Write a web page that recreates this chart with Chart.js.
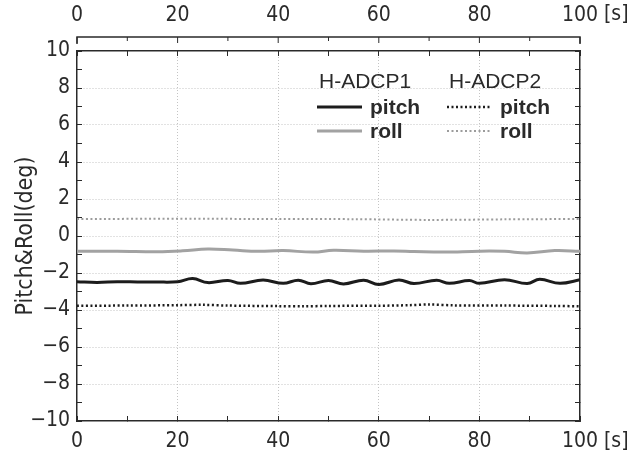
<!DOCTYPE html>
<html>
<head>
<meta charset="utf-8">
<script src="https://cdn.jsdelivr.net/npm/chart.js@4.4.1/dist/chart.umd.min.js"></script>
<style>
  html, body { margin: 0; padding: 0; background: #fff; }
  #wrap { width: 640px; height: 454px; position: relative; }
</style>
</head>
<body>
<div id="wrap"><canvas id="chart"></canvas></div>
<script>
// H-ADCP1 pitch (black, solid)
const pitch1T = [0, 4, 8, 12, 16, 20, 23, 26, 30, 32.5, 37, 41, 44, 46.5, 50, 53, 57, 60, 64, 67, 71.5, 74, 78, 80, 85, 89.5, 92, 96, 100];
const pitch1V = [-2.47, -2.51, -2.47, -2.48, -2.49, -2.47, -2.30, -2.52, -2.40, -2.56, -2.38, -2.56, -2.39, -2.58, -2.41, -2.59, -2.39, -2.62, -2.38, -2.57, -2.39, -2.56, -2.41, -2.56, -2.36, -2.57, -2.34, -2.56, -2.37];

// H-ADCP1 roll (grey, solid)
const roll1T = [0, 8, 16, 21, 26, 31, 36, 41, 47, 51, 57, 63, 67, 73, 80, 85, 89.5, 95, 100];
const roll1V = [-0.83, -0.82, -0.85, -0.80, -0.70, -0.76, -0.83, -0.79, -0.87, -0.77, -0.82, -0.81, -0.84, -0.87, -0.82, -0.83, -0.92, -0.79, -0.83];

// H-ADCP2 pitch (black, dotted)
const pitch2T = [0, 10, 20, 25, 30, 40, 45, 50, 60, 66, 70, 75, 85, 95, 100];
const pitch2V = [-3.77, -3.76, -3.74, -3.72, -3.76, -3.79, -3.80, -3.78, -3.77, -3.74, -3.70, -3.75, -3.76, -3.78, -3.80];

// H-ADCP2 roll (grey, dotted)
const roll2T = [0, 20, 40, 55, 70, 85, 100];
const roll2V = [0.92, 0.93, 0.92, 0.91, 0.87, 0.90, 0.92];

const xLabels = [0, 20, 40, 60, 80, 100];
const yLabels = [-10, -8, -6, -4, -2, 0, 2, 4, 6, 8, 10];
const timeUnit = '[s]';
const yTitle = 'Pitch&Roll(deg)';
const groupNames = ['H-ADCP1', 'H-ADCP2'];

const NARROW = '"Liberation Sans Narrow", "DejaVu Sans Condensed", sans-serif';
const SANS = '"Liberation Sans", Arial, sans-serif';
const INK = '#2a2a2a';
const GRID = '#c4c4c4';

const pts = (t, v) => t.map((x, i) => ({ x: x, y: v[i] }));
const minus = v => (v < 0 ? '\u2212' + Math.abs(v) : String(v));

const xGridColor = ctx => (xLabels.includes(ctx.tick.value) && ctx.tick.value !== 0 && ctx.tick.value !== 100 ? GRID : 'rgba(0,0,0,0)');
const yGridColor = ctx => (yLabels.includes(ctx.tick.value) && Math.abs(ctx.tick.value) !== 10 ? GRID : 'rgba(0,0,0,0)');

// ruler above the plot, plus "[s]" after the 100 labels
const rulerPlugin = {
  id: 'ruler',
  afterDraw(chart) {
    const ctx = chart.ctx;
    const sx = chart.scales.x2;
    const y0 = 37;
    ctx.save();
    ctx.strokeStyle = INK;
    ctx.lineWidth = 1.5;
    ctx.beginPath();
    ctx.moveTo(sx.left, y0 + 7);
    ctx.lineTo(sx.left, y0);
    ctx.lineTo(sx.right, y0);
    ctx.lineTo(sx.right, y0 + 7);
    ctx.stroke();
    ctx.lineWidth = 1;
    sx.ticks.forEach(t => {
      const px = sx.getPixelForValue(t.value);
      const len = xLabels.includes(t.value) ? 6 : 4;
      ctx.beginPath();
      ctx.moveTo(px, y0);
      ctx.lineTo(px, y0 + len);
      ctx.stroke();
    });
    ctx.fillStyle = INK;
    ctx.font = '21px ' + NARROW;
    ctx.textAlign = 'left';
    ctx.textBaseline = 'middle';
    const ux = sx.getPixelForValue(100) + 24;
    ctx.fillText(timeUnit, ux, 15);
    ctx.fillText(timeUnit, ux, 442);
    ctx.restore();
  }
};

// two-column legend inside the plot
const legendPlugin = {
  id: 'groupLegend',
  afterDraw(chart) {
    const ctx = chart.ctx;
    const ds = chart.data.datasets;
    const cols = [317, 447];
    ctx.save();
    ctx.fillStyle = INK;
    ctx.textBaseline = 'middle';
    ctx.textAlign = 'left';
    cols.forEach((cx, c) => {
      ctx.font = '21px ' + SANS;
      ctx.fillText(groupNames[c], cx + 2, 82);
      [0, 1].forEach(r => {
        const d = ds[c * 2 + r];
        const ly = 107 + r * 24;
        ctx.strokeStyle = d.borderColor;
        ctx.lineWidth = d.borderWidth;
        ctx.setLineDash(d.borderDash || []);
        ctx.beginPath();
        ctx.moveTo(cx, ly);
        ctx.lineTo(cx + 45, ly);
        ctx.stroke();
        ctx.setLineDash([]);
        ctx.font = 'bold 21px ' + SANS;
        ctx.fillText(d.label, cx + 53, ly + 1);
      });
    });
    ctx.restore();
  }
};

new Chart(document.getElementById('chart'), {
  type: 'line',
  data: {
    datasets: [
      { label: 'pitch', data: pts(pitch1T, pitch1V), borderColor: '#1c1c1c', borderWidth: 3, tension: 0.4 },
      { label: 'roll', data: pts(roll1T, roll1V), borderColor: '#a2a2a2', borderWidth: 3, tension: 0.4 },
      { label: 'pitch', data: pts(pitch2T, pitch2V), borderColor: '#1c1c1c', borderWidth: 2.5, borderDash: [2, 2.5], tension: 0.3 },
      { label: 'roll', data: pts(roll2T, roll2V), borderColor: '#9c9c9c', borderWidth: 2, borderDash: [2, 2.5], tension: 0.3 }
    ]
  },
  options: {
    responsive: true,
    maintainAspectRatio: false,
    animation: false,
    layout: { padding: 0 },
    elements: { point: { radius: 0 } },
    plugins: { legend: { display: false }, tooltip: { enabled: false } },
    scales: {
      x: {
        type: 'linear', position: 'bottom', min: 0, max: 100,
        afterFit: s => { s.height = 33; },
        ticks: {
          stepSize: 10, maxRotation: 0, autoSkip: false, padding: 13,
          color: INK, font: { family: NARROW, size: 21 },
          callback: v => (xLabels.includes(v) ? String(v) : '')
        },
        grid: { color: xGridColor, lineWidth: 1, tickLength: -5, tickColor: INK, tickWidth: 1 },
        border: { display: true, color: INK, width: 1.5, dash: [1, 2] }
      },
      x2: {
        type: 'linear', axis: 'x', position: 'top', min: 0, max: 100,
        afterFit: s => { s.height = 51; },
        ticks: {
          stepSize: 10, maxRotation: 0, autoSkip: false, padding: 28,
          color: INK, font: { family: NARROW, size: 21 },
          callback: v => (xLabels.includes(v) ? String(v) : '')
        },
        grid: { drawOnChartArea: false, tickLength: -5, tickColor: INK, tickWidth: 1 },
        border: { display: true, color: INK, width: 1.5 }
      },
      y: {
        type: 'linear', position: 'left', min: -10, max: 10,
        afterFit: s => { s.width = 77; },
        ticks: {
          stepSize: 1, autoSkip: false, padding: 12,
          color: INK, font: { family: NARROW, size: 21 },
          callback: v => (yLabels.includes(v) ? minus(v) : '')
        },
        title: { display: true, text: yTitle, color: INK, font: { family: NARROW, size: 23 }, padding: { top: 12, bottom: 0 } },
        grid: { color: yGridColor, lineWidth: 1, tickLength: -5, tickColor: INK, tickWidth: 1 },
        border: { display: true, color: INK, width: 1.5, dash: [1, 2] }
      },
      y2: {
        type: 'linear', axis: 'y', position: 'right', min: -10, max: 10,
        afterFit: s => { s.width = 60; },
        ticks: { stepSize: 1, autoSkip: false, callback: () => '' },
        grid: { drawOnChartArea: false, tickLength: -5, tickColor: INK, tickWidth: 1 },
        border: { display: true, color: INK, width: 1.5 }
      }
    }
  },
  plugins: [rulerPlugin, legendPlugin]
});
</script>
</body>
</html>
